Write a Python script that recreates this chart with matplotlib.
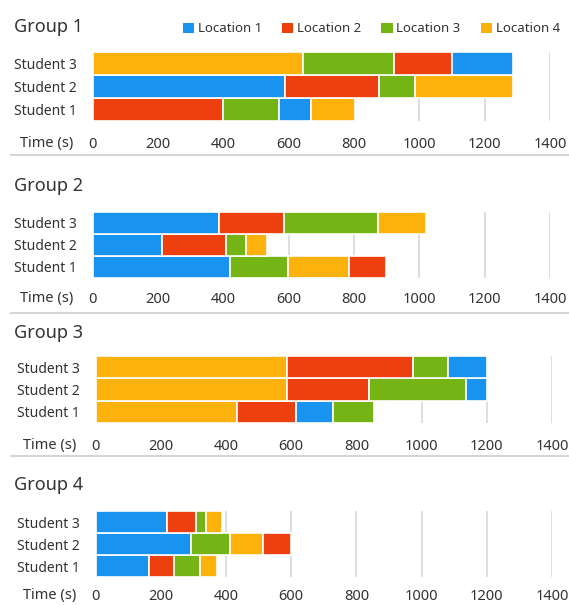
import matplotlib.pyplot as plt
from matplotlib.patches import Patch
from matplotlib.lines import Line2D

plt.rcParams["font.family"] = ["Noto Sans", "DejaVu Sans"]

students = ["Student 1", "Student 2", "Student 3"]
locations = ["Location 1", "Location 2", "Location 3", "Location 4"]
loc_colors = ["#1893F0", "#EE400F", "#74B515", "#FDB10B"]
xticks = [0, 200, 400, 600, 800, 1000, 1200, 1400]

# visiting order (location number) and time spent, Student 1..3
g1_order = [[2, 3, 1, 4], [1, 2, 3, 4], [4, 3, 2, 1]]
g1_time = [[400, 172, 96, 134], [589, 287, 111, 301], [644, 280, 177, 187]]
g2_order = [[1, 3, 4, 2], [1, 2, 3, 4], [1, 2, 3, 4]]
g2_time = [[420, 177, 187, 113], [213, 195, 63, 63], [386, 201, 286, 148]]
g3_order = [[4, 2, 1, 3], [4, 2, 3, 1], [4, 2, 3, 1]]
g3_time = [[435, 179, 115, 124], [588, 250, 298, 64], [588, 386, 106, 120]]
g4_order = [[1, 2, 3, 4], [1, 3, 4, 2], [1, 2, 3, 4]]
g4_time = [[164, 78, 78, 53], [292, 121, 101, 86], [219, 88, 31, 49]]

groups = ["Group 1", "Group 2", "Group 3", "Group 4"]
orders = [g1_order, g2_order, g3_order, g4_order]
times = [g1_time, g2_time, g3_time, g4_time]

W, H = 569, 605
# pixel boxes: x0, x1, y_top, y_bottom
boxes = [(92.5, 550, 52, 121), (92.5, 550, 212, 278),
         (95.5, 552, 356, 423), (95.5, 552, 511, 577)]
title_y = [27, 186, 333, 485]
tick_y = [144, 299, 446, 596]
sep_y = [155, 313, 456]
txt = "#333333"

fig = plt.figure(figsize=(W / 100, H / 100), dpi=100)

for gi in range(4):
    x0, x1, yt, yb = boxes[gi]
    ax = fig.add_axes([x0 / W, 1 - yb / H, (x1 - x0) / W, (yb - yt) / H])
    for si in range(3):
        left = 0
        for loc, t in zip(orders[gi][si], times[gi][si]):
            ax.barh(si, t, left=left, height=1.0, color=loc_colors[loc - 1],
                    edgecolor="white", linewidth=1.2)
            left += t
    ax.set_xlim(0, 1400)
    ax.set_ylim(-0.5, 2.5)
    ax.set_xticks(xticks)
    ax.set_yticks(range(3))
    ax.set_yticklabels(students)
    ax.grid(axis="x", color="#D4D4D4", linewidth=1.1)
    ax.set_axisbelow(True)
    for s in ax.spines.values():
        s.set_visible(False)
    ax.tick_params(axis="x", length=0, pad=(tick_y[gi] - yb - 7) * 0.72,
                   labelsize=10.5, labelcolor=txt)
    ax.tick_params(axis="y", length=0, pad=11, labelsize=10, labelcolor=txt)
    fig.text((x0 - 19) / W, 1 - tick_y[gi] / H, "Time (s)", ha="right",
             va="center", fontsize=10.5, color=txt)
    fig.text(14 / W, 1 - title_y[gi] / H, groups[gi], ha="left",
             va="center", fontsize=13, color=txt)

for y in sep_y:
    fig.add_artist(Line2D([11 / W, 1], [1 - y / H, 1 - y / H],
                          color="#D5D5D5", linewidth=1.5))

handles = [Patch(facecolor=c, label=l) for c, l in zip(loc_colors, locations)]
fig.legend(handles=handles, loc="center left", ncol=4, frameon=False,
           bbox_to_anchor=(183 / W, 1 - 29 / H), fontsize=9.5,
           handlelength=0.85, handleheight=0.85, handletextpad=0.3,
           columnspacing=1.5, labelcolor=txt, borderaxespad=0,
           borderpad=0)

fig.savefig("out.png", dpi=100)
